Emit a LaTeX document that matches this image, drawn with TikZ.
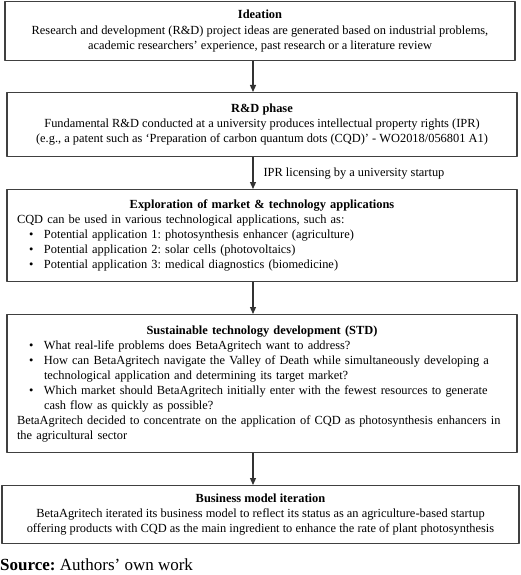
\documentclass[tikz,border=0pt]{standalone}
\usepackage{fontspec}
\setmainfont{Liberation Serif}
\usetikzlibrary{arrows.meta}
\frenchspacing
\newcommand{\bul}{\makebox[27pt][l]{\hspace{12pt}\textbullet}}
\newcommand{\cont}{\hspace*{27pt}}
\newcommand{\boxtitle}[1]{\makebox[\linewidth][c]{\textbf{#1}}}
\begin{document}
\begin{tikzpicture}[x=1pt,y=1pt,line join=round,>={Triangle[length=7pt,width=6pt]},
	box/.style={draw=black!75,line width=1.3pt,anchor=north,inner xsep=10pt,inner ysep=0pt,
		font=\fontsize{12.4}{15}\selectfont},
	link/.style={->,draw=black!80,line width=1.2pt}]
	\useasboundingbox (0,0) rectangle (520,-575);
	\coordinate (ax) at (253,0);
	% the five phases
	\node[box,minimum width=510,minimum height=59,align=center] (ideation) at (260,-1)
		{\textbf{Ideation}\\[1pt]
		Research and development (R\&D) project ideas are generated based on industrial problems,\\
		academic researchers’ experience, past research or a literature review};
	\node[box,minimum width=510,minimum height=64,align=center] (rnd) at (262,-92)
		{\textbf{R\&D phase}\\
		Fundamental R\&D conducted at a university produces intellectual property rights (IPR)\\
		(e.g., a patent such as ‘Preparation of carbon quantum dots (CQD)’ - WO2018/056801 A1)};
	\node[box,minimum height=92,text width=490,align=left] (explore) at (262,-189)
		{\boxtitle{Exploration of market \& technology applications}\\
		CQD can be used in various technological applications, such as:\\
		\bul Potential application 1: photosynthesis enhancer (agriculture)\\
		\bul Potential application 2: solar cells (photovoltaics)\\
		\bul Potential application 3: medical diagnostics (biomedicine)};
	\node[box,minimum height=138,text width=490,align=left] (std) at (262,-314)
		{\boxtitle{Sustainable technology development (STD)}\\
		\bul What real-life problems does BetaAgritech want to address?\\
		\bul How can BetaAgritech navigate the Valley of Death while simultaneously developing a\\
		\cont technological application and determining its target market?\\
		\bul Which market should BetaAgritech initially enter with the fewest resources to generate\\
		\cont cash flow as quickly as possible?\\
		BetaAgritech decided to concentrate on the application of CQD as photosynthesis enhancers in\\
		the agricultural sector};
	\node[box,minimum width=517,minimum height=58,align=center] (bmi) at (260.5,-485)
		{\textbf{Business model iteration}\\
		BetaAgritech iterated its business model to reflect its status as an agriculture-based startup\\
		offering products with CQD as the main ingredient to enhance the rate of plant photosynthesis};
	% connectors
	\draw[link] (ideation.south -| ax) -- (rnd.north -| ax);
	\draw[link] (rnd.south -| ax) -- (explore.north -| ax)
		node[midway,right,inner sep=0pt,xshift=10pt,font=\fontsize{12.4}{15}\selectfont]
		{IPR licensing by a university startup};
	\draw[link] (explore.south -| ax) -- (std.north -| ax);
	\draw[link] (std.south -| ax) -- (bmi.north -| ax);
	\node[anchor=base west,inner sep=0pt,font=\fontsize{17}{20}\selectfont] (source) at (0,-570)
		{\textbf{Source:} Authors’ own work};
\end{tikzpicture}
\end{document}
